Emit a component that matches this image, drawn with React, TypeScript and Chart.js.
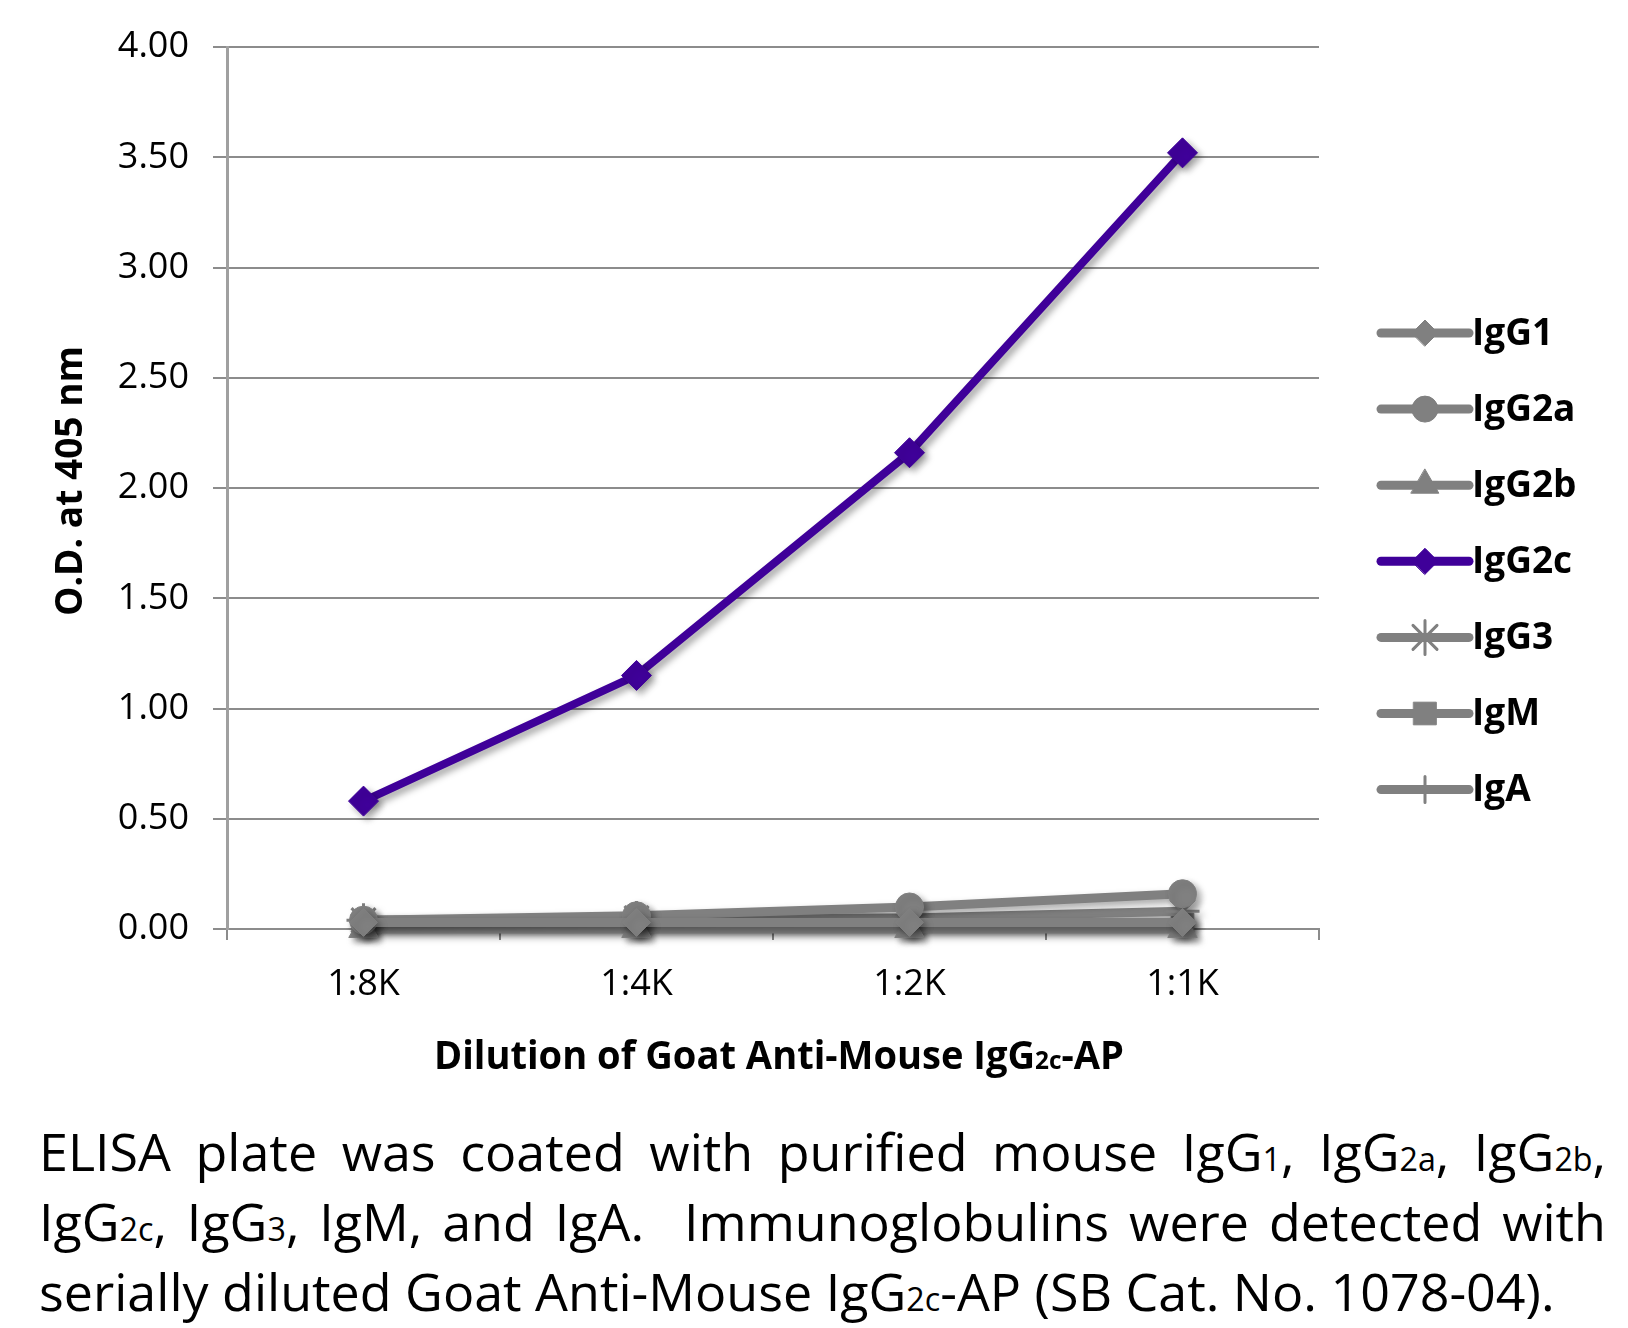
import React, { useEffect, useRef } from 'react';
import { Chart, registerables } from 'chart.js';
import { drawPoint } from 'chart.js/helpers';

Chart.register(...registerables);

// ---- data ----
const categories = ['1:8K', '1:4K', '1:2K', '1:1K'];
const seriesNames = ['IgG1', 'IgG2a', 'IgG2b', 'IgG2c', 'IgG3', 'IgM', 'IgA'];
const igg1Values = [0.03, 0.03, 0.03, 0.03];
const igg2aValues = [0.04, 0.06, 0.1, 0.16];
const igg2bValues = [0.0, 0.0, 0.0, 0.0];
const igg2cValues = [0.58, 1.15, 2.16, 3.52];
const igg3Values = [0.04, 0.05, 0.05, 0.08];
const igmValues = [0.02, 0.02, 0.02, 0.02];
const igaValues = [0.03, 0.03, 0.03, 0.03];
const yMin = 0;
const yMax = 4;
const yStep = 0.5;
const yTitle = 'O.D. at 405 nm';
const xTitleParts = ['Dilution of Goat Anti-Mouse IgG', '2c', '-AP'];

// ---- styles ----
const GRAY = '#808080';
const PURPLE = '#3f0099';
const pointStyles = ['rectRot', 'circle', 'triangle', 'rectRot', 'star', 'rect', 'cross'];
const pointRadii = [14, 14, 17, 15, 17, 16, 13];
const legendRadii = [13, 13, 16, 13, 17, 16, 13];
const colors = [GRAY, GRAY, GRAY, PURPLE, GRAY, GRAY, GRAY];
const seriesValues = [igg1Values, igg2aValues, igg2bValues, igg2cValues, igg3Values, igmValues, igaValues];

const FONT = "'Open Sans', 'DejaVu Sans', sans-serif";

const shadowPlugin = {
  id: 'shadowPlugin',
  beforeDatasetsDraw(chart: any) {
    const c = chart.ctx;
    c.save();
    c.shadowColor = 'rgba(0,0,0,0.35)';
    c.shadowBlur = 7;
    c.shadowOffsetX = 4;
    c.shadowOffsetY = 4;
  },
  afterDatasetsDraw(chart: any) {
    chart.ctx.restore();
  },
};

const decorPlugin = {
  id: 'decorPlugin',
  afterDraw(chart: any) {
    const ctx = chart.ctx;
    const area = chart.chartArea;

    // Y title
    ctx.save();
    const cy = (area.top + area.bottom) / 2 - 7;
    ctx.translate(82, cy);
    ctx.rotate(-Math.PI / 2);
    ctx.font = `bold 38px ${FONT}`;
    const wy = ctx.measureText(yTitle).width;
    ctx.scale(270 / wy, 1);
    ctx.fillStyle = '#000';
    ctx.textAlign = 'center';
    ctx.textBaseline = 'alphabetic';
    ctx.fillText(yTitle, 0, 0);
    ctx.restore();

    // X title with smaller "2c"
    ctx.save();
    const big = 39;
    const small = 25;
    const sizes = [big, small, big];
    const widths = xTitleParts.map((t, i) => {
      ctx.font = `bold ${sizes[i]}px ${FONT}`;
      return ctx.measureText(t).width;
    });
    const total = widths.reduce((a, b) => a + b, 0);
    const targetW = 690;
    const sx = targetW / total;
    const cx = (area.left + area.right) / 2 + 6;
    ctx.translate(cx - targetW / 2, 1069);
    ctx.scale(sx, 1);
    ctx.fillStyle = '#000';
    ctx.textAlign = 'left';
    ctx.textBaseline = 'alphabetic';
    let x = 0;
    xTitleParts.forEach((t, i) => {
      ctx.font = `bold ${sizes[i]}px ${FONT}`;
      ctx.fillText(t, x, 0);
      x += widths[i];
    });
    ctx.restore();

    // Legend
    const lx0 = area.right + 62;
    const lx1 = lx0 + 88;
    const mx = lx0 + 44;
    const tx = lx1 + 3;
    const y0 = 333;
    const step = 76.1;
    chart.data.datasets.forEach((ds: any, i: number) => {
      const y = y0 + i * step;
      ctx.save();
      ctx.strokeStyle = ds.borderColor;
      ctx.lineWidth = 9;
      ctx.lineCap = 'round';
      ctx.beginPath();
      ctx.moveTo(lx0, y);
      ctx.lineTo(lx1, y);
      ctx.stroke();
      ctx.fillStyle = ds.pointBackgroundColor;
      ctx.strokeStyle = ds.pointBorderColor;
      ctx.lineWidth = ds.pointBorderWidth;
      drawPoint(ctx, {
        pointStyle: ds.pointStyle,
        rotation: 0,
        radius: legendRadii[i],
        borderWidth: ds.pointBorderWidth,
      } as any, mx, y);
      ctx.fillStyle = '#000';
      ctx.font = `bold 37px ${FONT}`;
      ctx.textAlign = 'left';
      ctx.textBaseline = 'middle';
      ctx.fillText(ds.label, tx, y + 1);
      ctx.restore();
    });
  },
};

function ChartView() {
  const ref = useRef<HTMLCanvasElement | null>(null);
  useEffect(() => {
    if (!ref.current) return;
    const datasets = seriesNames.map((name, i) => {
      const style = pointStyles[i];
      const isStroke = style === 'star' || style === 'cross';
      return {
        label: name,
        data: seriesValues[i],
        borderColor: colors[i],
        backgroundColor: colors[i],
        pointBackgroundColor: colors[i],
        pointBorderColor: colors[i],
        pointBorderWidth: isStroke ? 3 : 1,
        pointStyle: style,
        pointRadius: pointRadii[i],
        borderWidth: i === 3 ? 8 : 9,
        tension: 0,
        clip: false,
        order: i === 3 ? 0 : 1,
      };
    });
    const tickFont = { family: FONT, size: 36 };
    const chart = new Chart(ref.current, {
      type: 'line',
      data: { labels: categories, datasets },
      options: {
        animation: false,
        responsive: false,
        devicePixelRatio: 1,
        layout: { padding: { top: 47, right: 309, left: 0, bottom: 0 } },
        plugins: {
          legend: { display: false },
          tooltip: { enabled: false },
          title: { display: false },
        },
        scales: {
          x: {
            type: 'category',
            offset: true,
            grid: {
              offset: true,
              drawOnChartArea: false,
              drawTicks: true,
              tickLength: 11,
              color: '#8c8c8c',
              lineWidth: 2,
            },
            border: { display: true, color: '#8c8c8c', width: 2 },
            ticks: { font: tickFont, color: '#000', padding: 23, maxRotation: 0 },
            afterFit: (s: any) => {
              s.height = 151;
            },
          },
          y: {
            min: yMin,
            max: yMax,
            grid: {
              color: '#8c8c8c',
              lineWidth: 2,
              drawTicks: true,
              tickLength: 14,
            },
            border: { display: true, color: '#a0a0a0', width: 3 },
            ticks: {
              stepSize: yStep,
              font: tickFont,
              color: '#000',
              padding: 24,
              callback: (v: any) => Number(v).toFixed(2),
            },
            afterFit: (s: any) => {
              s.width = 227;
            },
          },
        },
      } as any,
      plugins: [shadowPlugin, decorPlugin],
    });
    return () => chart.destroy();
  }, []);
  return <canvas ref={ref} width={1628} height={1080} style={{ display: 'block', width: 1628, height: 1080 }} />;
}

const captionStyle: React.CSSProperties = {
  fontFamily: "'Open Sans', Lato, sans-serif",
  fontSize: 52,
  lineHeight: '70px',
  height: 70,
  color: '#000',
  whiteSpace: 'nowrap',
};
const sub: React.CSSProperties = { fontSize: '0.62em' };

export default function App() {
  return (
    <div style={{ position: 'absolute', left: 0, top: 0, width: 1628, height: 1328, background: '#fff', overflow: 'hidden' }}>
      <ChartView />
      <div style={{ position: 'absolute', left: 39, top: 1116, width: 1567 }}>
        <div style={{ ...captionStyle, whiteSpace: 'normal', textAlign: 'justify', textAlignLast: 'justify' }}>
          ELISA plate was coated with purified mouse IgG<span style={sub}>1</span>, IgG<span style={sub}>2a</span>, IgG<span style={sub}>2b</span>,
        </div>
        <div style={{ ...captionStyle, whiteSpace: 'normal', textAlign: 'justify', textAlignLast: 'justify' }}>
          IgG<span style={sub}>2c</span>, IgG<span style={sub}>3</span>, IgM, and IgA.&nbsp; Immunoglobulins were detected with
        </div>
        <div style={captionStyle}>
          serially diluted Goat Anti-Mouse IgG<span style={sub}>2c</span>-AP (SB Cat. No. 1078-04).
        </div>
      </div>
    </div>
  );
}
